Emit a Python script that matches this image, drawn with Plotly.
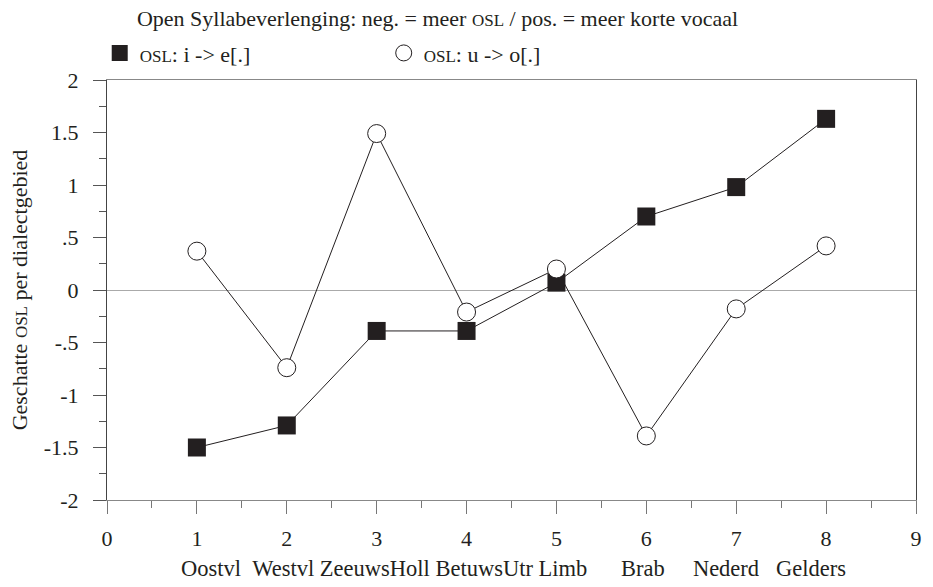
import plotly.graph_objects as go

x_pos = [1, 2, 3, 4, 5, 6, 7, 8]
regions = ["Oostvl", "Westvl", "ZeeuwsHoll", "BetuwsUtr", "Limb", "Brab", "Nederd", "Gelders"]
gaps = [2, 1, 1, 1, 6, 5, 3]  # spaces between region names in the caption
osl_i_e = [-1.50, -1.29, -0.39, -0.39, 0.07, 0.70, 0.98, 1.63]
osl_u_o = [0.37, -0.74, 1.49, -0.21, 0.20, -1.39, -0.18, 0.42]
y_ticks = [2, 1.5, 1, 0.5, 0, -0.5, -1, -1.5, -2]
y_ticktext = ["2", "1.5", "1", ".5", "0", "-.5", "-1", "-1.5", "-2"]

FONT = "Liberation Serif"
INK = "#231f20"
SC = "<span style='font-size:17px'>OSL</span>"

fig = go.Figure()
fig.add_trace(go.Scatter(x=x_pos, y=osl_i_e, mode="lines+markers", showlegend=False,
                         line=dict(color=INK, width=1),
                         marker=dict(symbol="square", size=18, color=INK, line=dict(width=0))))
fig.add_trace(go.Scatter(x=x_pos, y=osl_u_o, mode="lines+markers", showlegend=False,
                         line=dict(color=INK, width=1),
                         marker=dict(symbol="circle", size=18, color="white", line=dict(color=INK, width=1))))
# legend-only entries (marker only)
fig.add_trace(go.Scatter(x=[None], y=[None], mode="markers", name=SC + ": i -> e[.]",
                         marker=dict(symbol="square", size=16, color=INK, line=dict(width=0))))
fig.add_trace(go.Scatter(x=[None], y=[None], mode="markers", name=SC + ": u -> o[.]",
                         marker=dict(symbol="circle", size=16, color="white", line=dict(color=INK, width=1))))

caption = regions[0]
for g, r in zip(gaps, regions[1:]):
    caption += "&nbsp;" * g + r

fig.add_annotation(x=0.503, xref="paper", y=-0.162, yref="paper", yanchor="middle",
                   text=caption, showarrow=False, font=dict(family=FONT, size=22.5, color=INK))

fig.update_layout(
    width=933, height=587,
    margin=dict(l=107, r=11, t=80, b=87),
    paper_bgcolor="white", plot_bgcolor="white",
    font=dict(family=FONT, size=22, color=INK),
    title=dict(text="Open Syllabeverlenging: neg. = meer " + SC + " / pos. = meer korte vocaal",
               x=0.037, xref="paper", xanchor="left", y=1 - 18 / 587, yanchor="middle",
               font=dict(family=FONT, size=22, color=INK)),
    legend=dict(orientation="h", x=-0.009, xanchor="left", y=1.064, yref="paper",
                yanchor="middle", entrywidth=239, font=dict(family=FONT, size=22, color=INK),
                bgcolor="rgba(0,0,0,0)", itemwidth=30),
    xaxis=dict(range=[0, 9], tickmode="array", tickvals=list(range(10)),
               ticks="outside", ticklen=13, tickcolor="#777", tickwidth=1,
               minor=dict(dtick=0.5, ticks="outside", ticklen=7, tickcolor="#777", showgrid=False),
               showline=True, linecolor="#888", linewidth=1, mirror=True,
               showgrid=False, zeroline=False, ticklabelstandoff=6,
               tickfont=dict(family=FONT, size=22, color=INK)),
    yaxis=dict(range=[-2, 2], tickmode="array", tickvals=y_ticks, ticktext=y_ticktext,
               ticks="outside", ticklen=13, tickcolor="#555", tickwidth=1,
               minor=dict(tickvals=[1.75, 1.25, 0.75, 0.25, -0.25, -0.75, -1.25, -1.75],
                          ticks="outside", ticklen=7, tickcolor="#555", showgrid=False),
               showline=True, linecolor="#444", linewidth=1, mirror=True,
               showgrid=False, zeroline=True, zerolinecolor="#aaa", zerolinewidth=1,
               ticklabelstandoff=10,
               title=dict(text="Geschatte " + SC + " per dialectgebied", standoff=10,
                          font=dict(family=FONT, size=22, color=INK)),
               tickfont=dict(family=FONT, size=22, color=INK)),
)

fig.write_html("out.html")
